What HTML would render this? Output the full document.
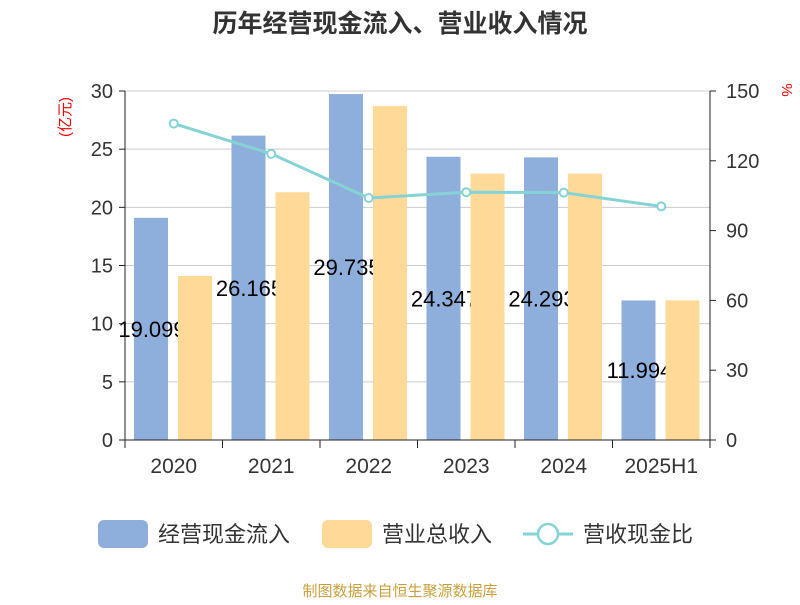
<!DOCTYPE html>
<html><head><meta charset="utf-8"><style>
body{margin:0;background:#fff}
svg text{font-family:"Liberation Sans","Noto Sans CJK SC",sans-serif}
</style></head><body>
<svg id="c" width="800" height="600">
<text x="400" y="32" text-anchor="middle" font-size="25" font-weight="bold" fill="#333">历年经营现金流入、营业收入情况</text>
<text transform="translate(70,117) rotate(-90)" text-anchor="middle" font-size="15" fill="#e00">(亿元)</text>
<text transform="translate(782,90) rotate(90)" text-anchor="middle" font-size="15" fill="#e00">%</text>
<g id="grid"></g><g id="bars"></g><g id="axes"></g><g id="line"></g>
<g>
<rect x="98" y="520" width="50" height="28" rx="6" fill="#8eaedb"/>
<text x="158" y="542" font-size="22" fill="#333">经营现金流入</text>
<rect x="322" y="520" width="50" height="28" rx="6" fill="#ffd998"/>
<text x="382" y="542" font-size="22" fill="#333">营业总收入</text>
<line x1="523" y1="534" x2="573" y2="534" stroke="#86d3d6" stroke-width="3"/>
<circle cx="548" cy="534" r="10" fill="#fff" stroke="#86d3d6" stroke-width="2.5"/>
<text x="583" y="542" font-size="22" fill="#333">营收现金比</text>
</g>
<text x="400" y="596" text-anchor="middle" font-size="15" fill="#c8a040">制图数据来自恒生聚源数据库</text>
</svg>
<script>
const categories=["2020","2021","2022","2023","2024","2025H1"];
const cashInflow=[19.099,26.165,29.735,24.347,24.293,11.994];
const revenue=[14.1,21.3,28.7,22.9,22.9,12.0];
const ratio=[136,123,104,106.5,106.3,100.4];
const leftTicks=[0,5,10,15,20,25,30];
const rightTicks=[0,30,60,90,120,150];
const NS="http://www.w3.org/2000/svg";
const L=125,R=710,T=91,B=440,cw=(R-L)/categories.length;
const yL=v=>B-v/30*(B-T), yR=v=>B-v/150*(B-T);
function mk(tag,attrs,parent,txt){const e=document.createElementNS(NS,tag);for(const k in attrs)e.setAttribute(k,attrs[k]);if(txt!==undefined)e.textContent=txt;document.getElementById(parent).appendChild(e);return e;}
leftTicks.forEach(v=>{
 const g=mk('line',{x1:L,x2:R,y1:yL(v),y2:yL(v),stroke:v?'#ccc':'#333','stroke-width':1},'grid');
 
 
 mk('line',{x1:L-6,x2:L,y1:yL(v),y2:yL(v),stroke:'#222'},'axes');
 const t=mk('text',{x:L-12,y:yL(v)+7,'text-anchor':'end','font-size':20,fill:'#333'},'axes',v);
 
 
});
rightTicks.forEach(v=>{
 mk('line',{x1:R,x2:R+6,y1:yR(v),y2:yR(v),stroke:'#222'},'axes');
 const t=mk('text',{x:R+16,y:yR(v)+7,'font-size':20,fill:'#333'},'axes',v);
 
 
});
mk('line',{x1:L,x2:L,y1:T,y2:B,stroke:'#222'},'axes');
mk('line',{x1:R,x2:R,y1:T,y2:B,stroke:'#222'},'axes');
mk('line',{x1:L,x2:R,y1:B,y2:B,stroke:'#222'},'axes');
for(let i=0;i<=categories.length;i++)mk('line',{x1:L+i*cw,x2:L+i*cw,y1:B,y2:B+8,stroke:'#222'},'axes');
categories.forEach((c,i)=>{
 const x0=L+i*cw;
 const b=mk('rect',{x:x0+9,y:yL(cashInflow[i]),width:34,height:B-yL(cashInflow[i]),fill:'#8eaedb'},'bars');
 
 
 const lb=mk('text',{x:x0+27,y:(yL(cashInflow[i])+B)/2+8,'text-anchor':'middle','font-size':22,fill:'#000'},'bars',cashInflow[i].toFixed(3));
 
 
 const o=mk('rect',{x:x0+53,y:yL(revenue[i]),width:34,height:B-yL(revenue[i]),fill:'#ffd998'},'bars');
 
 
 const t=mk('text',{x:x0+cw/2,y:473,'text-anchor':'middle','font-size':21,fill:'#333'},'axes',c);
 
 
});
const pts=ratio.map((v,i)=>[L+(i+0.5)*cw,yR(v)]);
const pl=mk('polyline',{points:pts.map(p=>p.join(',')).join(' '),fill:'none',stroke:'#86d3d6','stroke-width':3},'line');


pts.forEach((p,i)=>{
 const c=mk('circle',{cx:p[0],cy:p[1],r:4,fill:'#fff',stroke:'#86d3d6','stroke-width':2},'line');
 
 
});
</script>
</body></html>
